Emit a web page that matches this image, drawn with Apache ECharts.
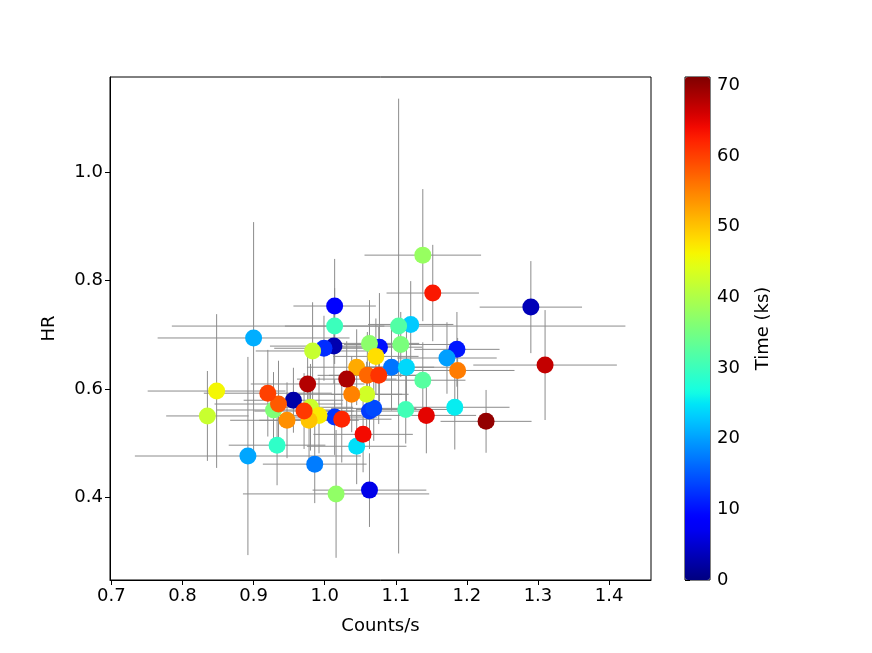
<!DOCTYPE html>
<html>
<head>
<meta charset="UTF-8">
<title>HR vs Counts/s</title>
<script src="https://cdn.jsdelivr.net/npm/echarts@6/dist/echarts.min.js"></script>
<style>
  html, body { margin: 0; padding: 0; background: #fff; }
  #main { width: 872px; height: 653px; }
</style>
</head>
<body>
<div id="main"></div>
<script type="text/javascript">
// values, sorted by time (later points sit on top)
var counts    = [0.956,1.013,1.290,1.063,1.014,1.077,1.186,0.999,1.014,1.063,1.069,1.094,0.986,1.172,0.892,0.900,1.121,1.115,1.045,1.183,0.933,1.014,1.114,1.104,1.138,1.107,0.928,1.063,1.016,1.138,0.983,0.835,0.980,1.059,0.848,0.992,1.072,0.978,1.045,0.947,1.038,1.187,1.060,0.935,0.920,0.971,1.076,1.024,1.152,1.054,1.143,1.310,0.976,1.031,1.227];
var hr        = [0.579,0.679,0.751,0.413,0.753,0.677,0.673,0.675,0.548,0.559,0.564,0.640,0.461,0.657,0.476,0.694,0.719,0.640,0.494,0.566,0.496,0.716,0.562,0.716,0.616,0.682,0.561,0.684,0.406,0.847,0.670,0.550,0.566,0.590,0.596,0.551,0.660,0.542,0.640,0.542,0.590,0.634,0.625,0.572,0.592,0.559,0.625,0.544,0.777,0.516,0.551,0.644,0.609,0.618,0.540];
var countsErr = [0.07,0.09,0.072,0.08,0.058,0.06,0.06,0.07,0.06,0.08,0.06,0.06,0.073,0.07,0.159,0.135,0.06,0.08,0.07,0.077,0.068,0.07,0.07,0.319,0.06,0.08,0.08,0.07,0.131,0.082,0.08,0.058,0.06,0.05,0.097,0.06,0.06,0.07,0.07,0.08,0.08,0.08,0.07,0.09,0.09,0.07,0.07,0.07,0.065,0.07,0.07,0.101,0.08,0.07,0.064];
var hrErr     = [0.06,0.07,0.085,0.068,0.087,0.10,0.069,0.06,0.07,0.07,0.06,0.08,0.072,0.066,0.183,0.214,0.08,0.07,0.07,0.078,0.074,0.07,0.063,0.42,0.07,0.06,0.07,0.08,0.118,0.122,0.09,0.083,0.08,0.06,0.142,0.07,0.07,0.08,0.07,0.07,0.07,0.06,0.08,0.08,0.08,0.07,0.09,0.08,0.089,0.07,0.07,0.1015,0.07,0.07,0.058];
var time      = [2.5,3,3.5,6.5,9,10,10.5,12,12.5,13,14,17,17.5,20,20.5,21,23,24,24.5,25.5,29,30,30.5,32,32.5,35.5,36,37,37.5,38,42,42.2,42.5,43,46,47,48,50,52,54,55,55.5,57,58,60,60.5,61,62,63,64,65,67,68,68.5,70];

var xTicks  = [0.7, 0.8, 0.9, 1.0, 1.1, 1.2, 1.3, 1.4];
var yTicks  = [0.4, 0.6, 0.8, 1.0];
var cbTicks = [0, 10, 20, 30, 40, 50, 60, 70];

(function () {
    var myChart = echarts.init(document.getElementById('main'));
    var font = 'DejaVu Sans';

    // jet colormap (matplotlib segment data)
    function seg(pts, t) {
        for (var i = 1; i < pts.length; i++) {
            if (t <= pts[i][0]) {
                var a = pts[i - 1], b = pts[i];
                return a[1] + (b[1] - a[1]) * (t - a[0]) / (b[0] - a[0]);
            }
        }
        return pts[pts.length - 1][1];
    }
    function jet(t) {
        var r = seg([[0, 0], [0.35, 0], [0.66, 1], [0.89, 1], [1, 0.5]], t);
        var g = seg([[0, 0], [0.125, 0], [0.375, 1], [0.64, 1], [0.91, 0], [1, 0]], t);
        var b = seg([[0, 0.5], [0.11, 1], [0.34, 1], [0.65, 0], [1, 0]], t);
        return 'rgb(' + Math.round(r * 255) + ',' + Math.round(g * 255) + ',' + Math.round(b * 255) + ')';
    }
    var jetColors = [];
    for (var k = 0; k <= 40; k++) jetColors.push(jet(k / 40));

    var points = [], bars = [];
    for (var i = 0; i < counts.length; i++) {
        points.push([counts[i], hr[i], time[i]]);
        bars.push([counts[i], hr[i], countsErr[i], hrErr[i]]);
    }

    var tickLabel = { color: '#000', fontFamily: font, fontSize: 18 };
    var nameStyle = { color: '#000', fontFamily: font, fontSize: 18 };

    var option = {
        animation: false,
        grid: [
            { left: 110, top: 77, width: 541, height: 503, show: true, borderColor: '#000', borderWidth: 1, backgroundColor: 'transparent' },
            { left: 685, top: 77, width: 25, height: 503, show: true, borderColor: '#000', borderWidth: 1, backgroundColor: 'transparent' }
        ],
        xAxis: [
            {
                type: 'value', gridIndex: 0, min: 0.698, max: 1.459,
                name: 'Counts/s', nameLocation: 'middle', nameGap: 37,
                nameTextStyle: nameStyle,
                splitLine: { show: false },
                axisLine: { show: true, lineStyle: { color: '#000', width: 1 } },
                axisTick: { show: true, length: 5, customValues: xTicks, lineStyle: { color: '#000' } },
                axisLabel: Object.assign({ margin: 7, customValues: xTicks, formatter: function (v) { return v.toFixed(1); } }, tickLabel)
            },
            {
                type: 'value', gridIndex: 1, min: 0, max: 1, show: false
            }
        ],
        yAxis: [
            {
                type: 'value', gridIndex: 0, min: 0.247, max: 1.176,
                name: 'HR', nameLocation: 'middle', nameGap: 52, nameRotate: 90,
                nameTextStyle: nameStyle,
                splitLine: { show: false },
                axisLine: { show: true, lineStyle: { color: '#000', width: 1 } },
                axisTick: { show: true, length: 5, customValues: yTicks, lineStyle: { color: '#000' } },
                axisLabel: Object.assign({ margin: 7, customValues: yTicks, formatter: function (v) { return v.toFixed(1); } }, tickLabel)
            },
            {
                type: 'value', gridIndex: 1, min: 0, max: 71.2, position: 'right',
                name: 'Time (ks)', nameLocation: 'middle', nameGap: 44, nameRotate: 90,
                nameTextStyle: nameStyle,
                splitLine: { show: false },
                axisLine: { show: false },
                axisTick: { show: true, length: 5, customValues: cbTicks, lineStyle: { color: '#000' } },
                axisLabel: Object.assign({ margin: 7, customValues: cbTicks, formatter: function (v) { return String(v); } }, tickLabel)
            }
        ],
        visualMap: {
            type: 'continuous', min: 0, max: 71.2, dimension: 2, seriesIndex: 1,
            left: 685, top: 77, itemWidth: 25, itemHeight: 503, padding: 0,
            calculable: false, hoverLink: false, text: null,
            inRange: { color: jetColors, opacity: 1 }
        },
        series: [
            {
                // error bars
                type: 'custom', xAxisIndex: 0, yAxisIndex: 0, z: 1,
                data: bars,
                renderItem: function (params, api) {
                    var x = api.value(0), y = api.value(1), xe = api.value(2), ye = api.value(3);
                    var l = api.coord([x - xe, y]), r = api.coord([x + xe, y]);
                    var t = api.coord([x, y + ye]), b = api.coord([x, y - ye]);
                    var st = { stroke: '#8c8c8c', lineWidth: 1 };
                    return {
                        type: 'group',
                        children: [
                            { type: 'line', shape: { x1: l[0], y1: l[1], x2: r[0], y2: r[1] }, style: st },
                            { type: 'line', shape: { x1: t[0], y1: t[1], x2: b[0], y2: b[1] }, style: st }
                        ]
                    };
                }
            },
            {
                type: 'scatter', xAxisIndex: 0, yAxisIndex: 0, z: 2,
                symbol: 'circle', symbolSize: 17,
                itemStyle: { opacity: 1 },
                data: points
            }
        ]
    };
    myChart.setOption(option);
})();
</script>
</body>
</html>
